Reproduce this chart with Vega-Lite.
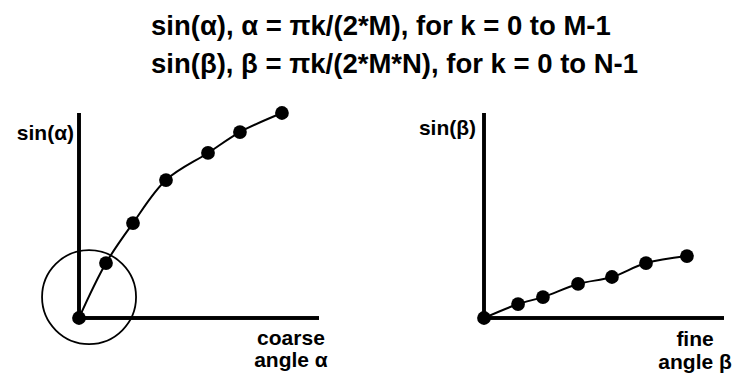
{
  "$schema": "https://vega.github.io/schema/vega-lite/v6.json",
  "background": "white",
  "padding": {"left": 16, "top": 12, "right": 0, "bottom": 0},
  "config": {
    "view": {"stroke": null},
    "font": "Liberation Sans",
    "text": {"font": "Liberation Sans", "color": "black"}
  },
  "title": {
    "text": [
      "sin(α), α = πk/(2*M), for k = 0 to M-1",
      "sin(β), β = πk/(2*M*N), for k = 0 to N-1"
    ],
    "font": "Liberation Sans",
    "fontSize": 27.5,
    "fontWeight": "bold",
    "color": "black",
    "lineHeight": 38,
    "anchor": "start",
    "align": "left",
    "frame": "group",
    "dx": 72,
    "offset": 28
  },
  "data": {
    "values": [
      {"panel": "coarse", "kind": "pt", "angle": 0.0, "value": 0.0},
      {"panel": "coarse", "kind": "pt", "angle": 0.18, "value": 0.268},
      {"panel": "coarse", "kind": "pt", "angle": 0.36, "value": 0.463},
      {"panel": "coarse", "kind": "pt", "angle": 0.58, "value": 0.673},
      {"panel": "coarse", "kind": "pt", "angle": 0.86, "value": 0.805},
      {"panel": "coarse", "kind": "pt", "angle": 1.073, "value": 0.907},
      {"panel": "coarse", "kind": "pt", "angle": 1.353, "value": 1.0},
      {"panel": "fine", "kind": "pt", "angle": 0.0, "value": 0.0},
      {"panel": "fine", "kind": "pt", "angle": 0.227, "value": 0.068},
      {"panel": "fine", "kind": "pt", "angle": 0.393, "value": 0.102},
      {"panel": "fine", "kind": "pt", "angle": 0.627, "value": 0.166},
      {"panel": "fine", "kind": "pt", "angle": 0.853, "value": 0.2},
      {"panel": "fine", "kind": "pt", "angle": 1.08, "value": 0.268},
      {"panel": "fine", "kind": "pt", "angle": 1.353, "value": 0.302},
      {"panel": "coarse", "kind": "ring", "angle": 0.067, "value": 0.102},
      {"panel": "coarse", "kind": "ylabel", "angle": -0.033, "value": 0.898, "label": "sin(α)"},
      {"panel": "coarse", "kind": "xlabel", "angle": 1.413, "value": -0.132, "label": "coarse"},
      {"panel": "coarse", "kind": "xlabel", "angle": 1.413, "value": -0.239, "label": "angle α"},
      {"panel": "fine", "kind": "ylabel", "angle": -0.053, "value": 0.924, "label": "sin(β)"},
      {"panel": "fine", "kind": "xlabel", "angle": 1.407, "value": -0.137, "label": "fine"},
      {"panel": "fine", "kind": "xlabel", "angle": 1.407, "value": -0.249, "label": "angle β"}
    ]
  },
  "facet": {
    "column": {"field": "panel", "type": "nominal", "header": null, "title": null}
  },
  "spacing": 165,
  "bounds": "flush",
  "spec": {
    "width": 240,
    "height": 205,
    "encoding": {
      "x": {"field": "angle", "type": "quantitative", "scale": {"domain": [0, 1.6], "nice": false}, "axis": null},
      "y": {"field": "value", "type": "quantitative", "scale": {"domain": [0, 1], "nice": false}, "axis": null}
    },
    "layer": [
      {
        "mark": {"type": "rule", "color": "black", "strokeWidth": 2.5, "clip": false},
        "encoding": {"x": {"datum": 0}, "y": {"datum": 0}, "y2": {"datum": 1}}
      },
      {
        "mark": {"type": "rule", "color": "black", "strokeWidth": 2.5, "clip": false},
        "encoding": {"y": {"datum": 0}, "x": {"datum": 0}, "x2": {"datum": 1.6}}
      },
      {
        "transform": [{"filter": "datum.kind === 'ring'"}],
        "mark": {"type": "point", "shape": "circle", "filled": false, "color": "black", "strokeWidth": 1.8, "size": 8836, "opacity": 1, "clip": false}
      },
      {
        "transform": [{"filter": "datum.kind === 'pt'"}],
        "mark": {"type": "line", "color": "black", "strokeWidth": 2, "interpolate": "catmull-rom", "clip": false},
        "encoding": {"order": {"field": "angle", "type": "quantitative"}}
      },
      {
        "transform": [{"filter": "datum.kind === 'pt'"}],
        "mark": {"type": "point", "shape": "circle", "filled": true, "color": "black", "size": 190, "opacity": 1, "clip": false}
      },
      {
        "transform": [{"filter": "datum.kind === 'ylabel'"}],
        "mark": {"type": "text", "align": "right", "baseline": "middle", "fontSize": 21, "fontWeight": "bold", "clip": false},
        "encoding": {"text": {"field": "label"}}
      },
      {
        "transform": [{"filter": "datum.kind === 'xlabel'"}],
        "mark": {"type": "text", "align": "center", "baseline": "alphabetic", "fontSize": 21, "fontWeight": "bold", "clip": false},
        "encoding": {"text": {"field": "label"}}
      }
    ]
  }
}
